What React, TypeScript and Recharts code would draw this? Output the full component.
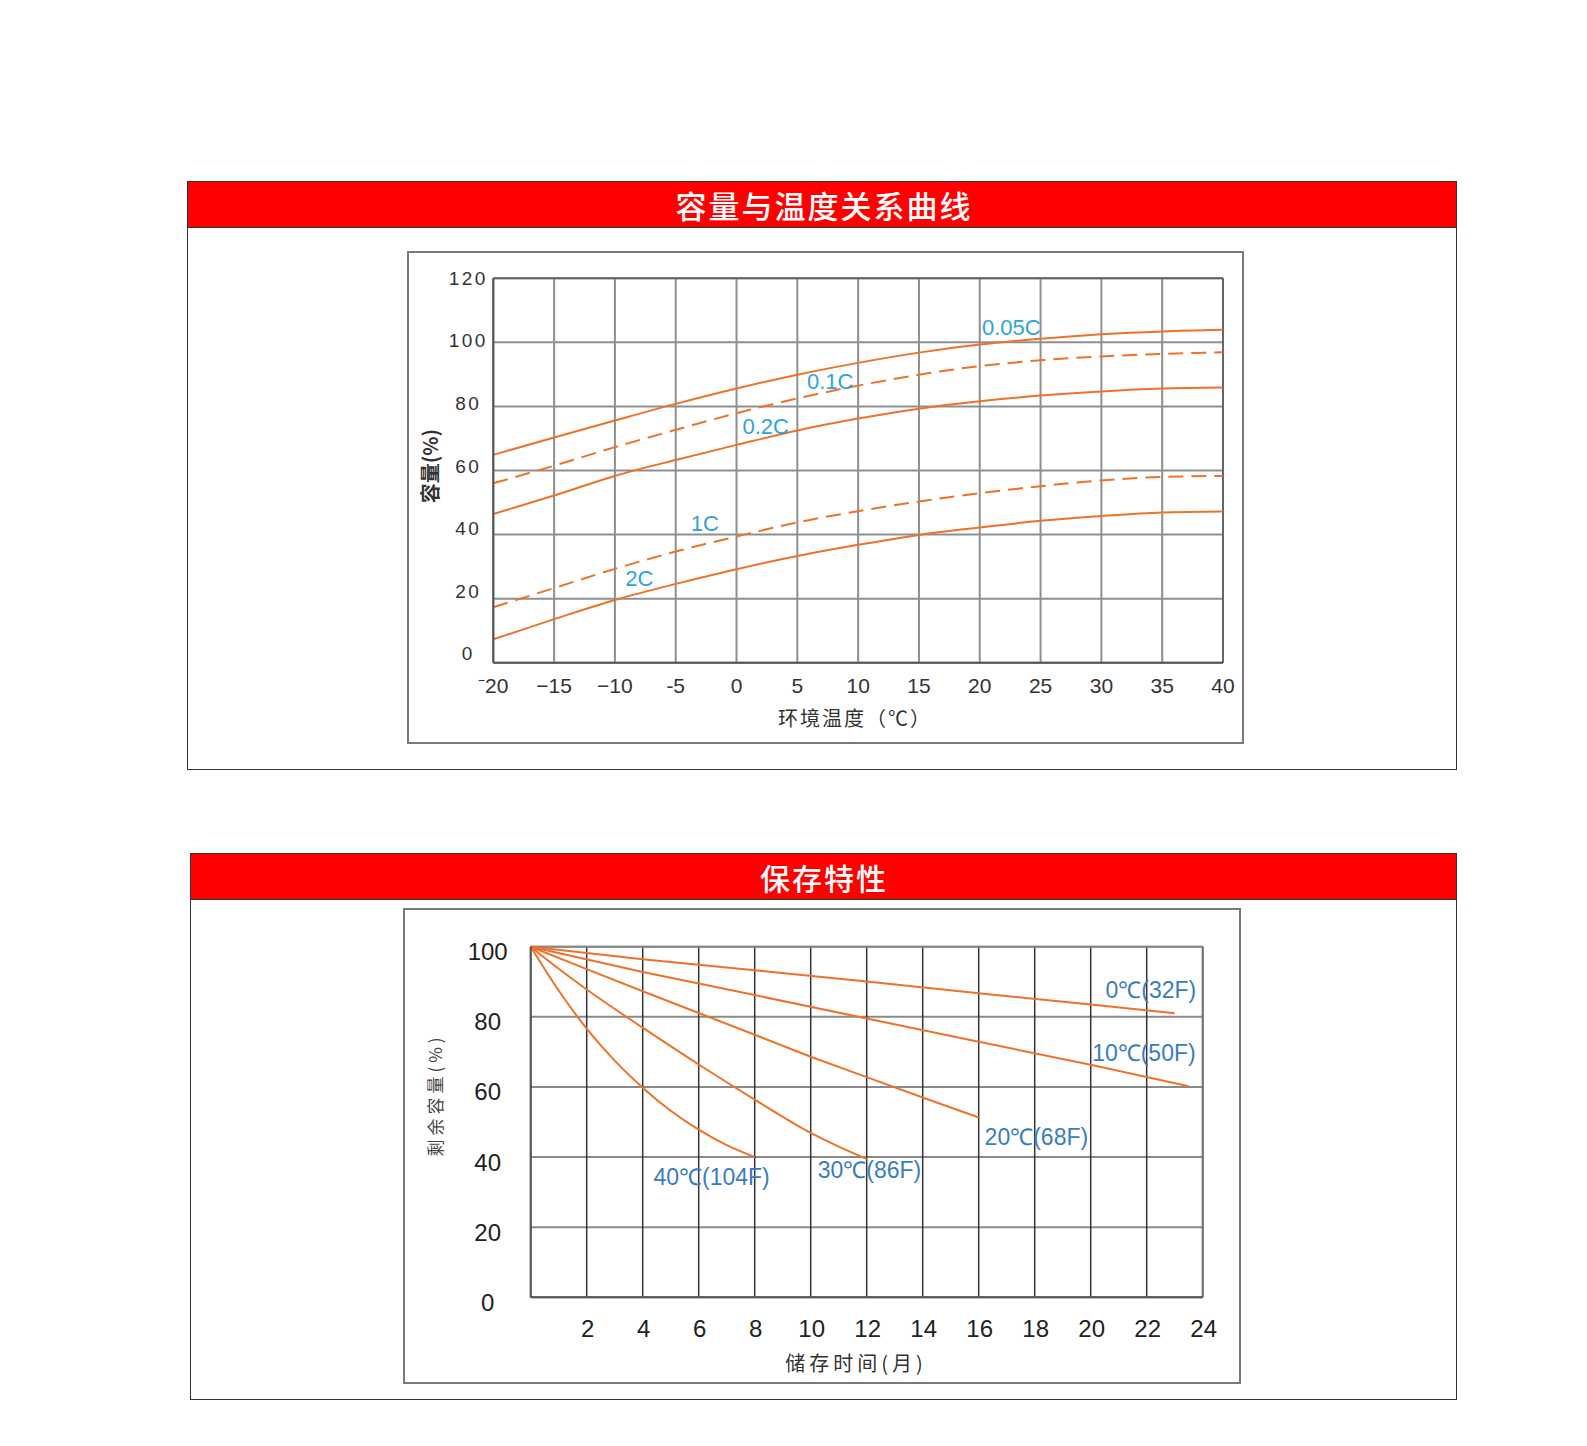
import React from 'react';
import { LineChart, Line, XAxis, YAxis, CartesianGrid, ReferenceLine, ReferenceDot } from 'recharts';

// ---------- Chart 1: capacity vs temperature ----------
const temps = [-20, -15, -10, -5, 0, 5, 10, 15, 20, 25, 30, 35, 40];
const tempTickLabels = ['⁻20', '−15', '−10', '-5', '0', '5', '10', '15', '20', '25', '30', '35', '40'];
const capTicks = [0, 20, 40, 60, 80, 100, 120];
const cap005 = [64.9, 70.3, 75.6, 80.8, 85.6, 89.9, 93.6, 96.8, 99.3, 101.1, 102.5, 103.4, 103.9];
const cap01 = [56, 61.5, 67.3, 72.7, 77.9, 82.5, 86.5, 89.9, 92.6, 94.4, 95.6, 96.4, 96.9];
const cap02 = [46.4, 52.2, 58.3, 63.3, 68, 72.5, 76.2, 79.3, 81.6, 83.4, 84.7, 85.6, 85.9];
const cap1 = [17.3, 23.3, 29.3, 34.7, 39.4, 43.8, 47.3, 50.3, 52.9, 55.1, 56.9, 58, 58.3];
const cap2 = [7.3, 13.6, 19.6, 24.6, 29.2, 33.3, 36.8, 39.9, 42.2, 44.3, 45.8, 46.9, 47.2];
const tempSeriesLabels = [
  { text: '0.05C', x: 22.6, y: 104.6 },
  { text: '0.1C', x: 7.7, y: 87.8 },
  { text: '0.2C', x: 2.4, y: 73.8 },
  { text: '1C', x: -2.6, y: 43.7 },
  { text: '2C', x: -8.0, y: 26.5 },
];

const tempData = temps.map((t, i) => ({
  t,
  c005: cap005[i],
  c01: cap01[i],
  c02: cap02[i],
  c1: cap1[i],
  c2: cap2[i],
}));

// ---------- Chart 2: storage characteristic ----------
const monthTicks = [0, 2, 4, 6, 8, 10, 12, 14, 16, 18, 20, 22, 24];
const monthTickLabels = ['', '2', '4', '6', '8', '10', '12', '14', '16', '18', '20', '22', '24'];
const remainTicks = [0, 20, 40, 60, 80, 100];
const m0 = [0, 4, 8, 12, 16, 20, 23];
const v0 = [100, 96.4, 93.3, 90.1, 86.7, 83.5, 81];
const m10 = [0, 4, 8, 12, 16, 20, 23.5];
const v10 = [100, 92.8, 86.2, 79.5, 72.9, 66.3, 60.2];
const m20 = [0, 2, 4, 6, 8, 10, 12, 14, 16];
const v20 = [100, 93.6, 87.3, 81.1, 74.9, 68.6, 62.8, 57, 51.3];
const m30 = [0, 1, 2, 4, 6, 8, 10, 11, 12];
const v30 = [100, 93.7, 87.8, 76.9, 66.4, 56.4, 46.9, 43, 39.5];
const m40 = [0, 1, 2, 3, 4, 5, 6, 7, 8];
const v40 = [100, 87.5, 76.6, 67.5, 59.8, 53.2, 47.8, 43.4, 40];
const storageSeries = [
  { name: '0℃(32F)', m: m0, v: v0, curve: 'linear' },
  { name: '10℃(50F)', m: m10, v: v10, curve: 'linear' },
  { name: '20℃(68F)', m: m20, v: v20, curve: 'linear' },
  { name: '30℃(86F)', m: m30, v: v30, curve: 'monotone' },
  { name: '40℃(104F)', m: m40, v: v40, curve: 'monotone' },
];
const storageLabels = [
  { text: '0℃(32F)', x: 22.15, y: 87.8 },
  { text: '10℃(50F)', x: 21.9, y: 69.7 },
  { text: '20℃(68F)', x: 18.06, y: 45.8 },
  { text: '30℃(86F)', x: 12.1, y: 36.4 },
  { text: '40℃(104F)', x: 6.46, y: 34.5 },
];

const ORANGE = '#ee722a';
const NUM_FONT = '"Liberation Sans", Arial, sans-serif';
const CJK_FONT = '"Noto Sans CJK SC", "Noto Sans", sans-serif';

const TempXTick = (props: any) => {
  const { x, y, payload } = props;
  const idx = temps.indexOf(payload.value);
  return (
    <text x={x} y={y + 23} textAnchor="middle" dominantBaseline="central" fontSize={21} fill="#333" fontFamily={NUM_FONT}>
      {tempTickLabels[idx]}
    </text>
  );
};

const CapYTick = (props: any) => {
  const { x, y, payload } = props;
  const v = payload.value as number;
  const dy = -9 * (1 - v / 120);
  return (
    <text x={x - 25} y={y + dy} textAnchor="middle" dominantBaseline="central" fontSize={19} letterSpacing={2.5} fill="#333" fontFamily={NUM_FONT}>
      {String(v)}
    </text>
  );
};

const MonthXTick = (props: any) => {
  const { x, y, payload } = props;
  const idx = monthTicks.indexOf(payload.value);
  return (
    <text x={x + 1} y={y + 31} textAnchor="middle" dominantBaseline="central" fontSize={24} fill="#222" fontFamily={NUM_FONT}>
      {monthTickLabels[idx]}
    </text>
  );
};

const RemainYTick = (props: any) => {
  const { x, y, payload } = props;
  return (
    <text x={x - 43} y={y + 5} textAnchor="middle" dominantBaseline="central" fontSize={24} fill="#222" fontFamily={NUM_FONT}>
      {String(payload.value)}
    </text>
  );
};

const abs = (l: number, t: number, w: number, h: number, extra: any = {}) => ({
  position: 'absolute' as const,
  left: l,
  top: t,
  width: w,
  height: h,
  boxSizing: 'border-box' as const,
  ...extra,
});

const centerText = (cx: number, cy: number, extra: any = {}) => ({
  position: 'absolute' as const,
  left: cx,
  top: cy,
  transform: 'translate(-50%, -50%)',
  whiteSpace: 'nowrap' as const,
  lineHeight: 1,
  ...extra,
});

export default function App() {
  return (
    <div style={{ position: 'absolute', left: 0, top: 0, width: 1587, height: 1446, background: '#fff' }}>
      {/* Panel 1 */}
      <div style={abs(187, 181, 1270, 589, { border: '1.5px solid #333' })} />
      <div style={abs(187, 181, 1270, 47, { background: '#ff0000', border: '1.5px solid #333' })} />
      <div style={centerText(824, 204, { color: '#fff', fontSize: 31, letterSpacing: 2, fontWeight: 500, fontFamily: CJK_FONT })}>容量与温度关系曲线</div>

      <div style={abs(407, 251, 837, 493, { border: '2px solid #7a7a7a' })} />
      <div style={abs(408, 252, 835, 491)}>
        <LineChart width={835} height={491} data={tempData} margin={{ top: 26.3, right: 20, bottom: 0, left: 0 }}>
          <CartesianGrid stroke="#8f8f8f" strokeWidth={2} />
          <XAxis
            dataKey="t"
            type="number"
            domain={[-20, 40]}
            ticks={temps}
            interval={0}
            height={80.3}
            tickSize={0}
            tickMargin={0}
            axisLine={{ stroke: '#555', strokeWidth: 2 }}
            tickLine={false}
            tick={<TempXTick />}
          />
          <YAxis
            type="number"
            domain={[0, 120]}
            ticks={capTicks}
            interval={0}
            width={85.3}
            tickSize={0}
            tickMargin={0}
            axisLine={{ stroke: '#555', strokeWidth: 2 }}
            tickLine={false}
            tick={<CapYTick />}
          />
          <ReferenceLine y={120} stroke="#666" strokeWidth={2} />
          <ReferenceLine x={40} stroke="#666" strokeWidth={2} />
          <Line dataKey="c005" type="monotone" stroke={ORANGE} strokeWidth={2} dot={false} isAnimationActive={false} />
          <Line dataKey="c01" type="monotone" stroke={ORANGE} strokeWidth={2} strokeDasharray="15 8" dot={false} isAnimationActive={false} />
          <Line dataKey="c02" type="monotone" stroke={ORANGE} strokeWidth={2} dot={false} isAnimationActive={false} />
          <Line dataKey="c1" type="monotone" stroke={ORANGE} strokeWidth={2} strokeDasharray="15 8" dot={false} isAnimationActive={false} />
          <Line dataKey="c2" type="monotone" stroke={ORANGE} strokeWidth={2} dot={false} isAnimationActive={false} />
          {tempSeriesLabels.map((l) => (
            <ReferenceDot
              key={l.text}
              x={l.x}
              y={l.y}
              r={1}
              fill="none"
              stroke="none"
              label={{ value: l.text, position: 'center', fill: '#2ea3dc', fontSize: 22, fontFamily: NUM_FONT }}
            />
          ))}
        </LineChart>
      </div>
      <div style={centerText(430, 466, { transform: 'translate(-50%, -50%) rotate(-90deg)', fontSize: 20, fontWeight: 700, color: '#333', fontFamily: CJK_FONT })}>容量(%)</div>
      <div style={centerText(855, 718, { fontSize: 20, letterSpacing: 2, color: '#333', fontFamily: CJK_FONT })}>环境温度（℃）</div>

      {/* Panel 2 */}
      <div style={abs(190, 853, 1267, 547, { border: '1.5px solid #333' })} />
      <div style={abs(190, 853, 1267, 47, { background: '#ff0000', border: '1.5px solid #333' })} />
      <div style={centerText(824, 877, { color: '#fff', fontSize: 30, letterSpacing: 2, fontWeight: 500, fontFamily: CJK_FONT })}>保存特性</div>

      <div style={abs(403, 908, 838, 476, { border: '2px solid #7a7a7a' })} />
      <div style={abs(404, 909, 836, 474)}>
        <LineChart width={836} height={474} margin={{ top: 37.7, right: 37.3, bottom: 0, left: 0 }}>
          <CartesianGrid stroke="#8a8a8a" strokeWidth={2} vertical={false} />
          <CartesianGrid stroke="#333" strokeWidth={1.5} horizontal={false} />
          <XAxis
            dataKey="m"
            type="number"
            domain={[0, 24]}
            ticks={monthTicks}
            interval={0}
            height={85.7}
            tickSize={0}
            tickMargin={0}
            axisLine={{ stroke: '#555', strokeWidth: 2 }}
            tickLine={false}
            tick={<MonthXTick />}
            allowDuplicatedCategory={false}
          />
          <YAxis
            type="number"
            domain={[0, 100]}
            ticks={remainTicks}
            interval={0}
            width={126.7}
            tickSize={0}
            tickMargin={0}
            axisLine={{ stroke: '#555', strokeWidth: 2 }}
            tickLine={false}
            tick={<RemainYTick />}
          />
          <ReferenceLine y={100} stroke="#888" strokeWidth={2} />
          <ReferenceLine x={24} stroke="#777" strokeWidth={2} />
          {storageSeries.map((s) => (
            <Line
              key={s.name}
              data={s.m.map((m, i) => ({ m, v: s.v[i] }))}
              dataKey="v"
              type={s.curve as any}
              stroke={ORANGE}
              strokeWidth={2}
              dot={false}
              isAnimationActive={false}
            />
          ))}
          {storageLabels.map((l) => (
            <ReferenceDot
              key={l.text}
              x={l.x}
              y={l.y}
              r={1}
              fill="none"
              stroke="none"
              label={{ value: l.text, position: 'center', fill: '#3a7cc0', fontSize: 23, fontFamily: NUM_FONT }}
            />
          ))}
        </LineChart>
      </div>
      <div style={centerText(434, 1095, { transform: 'translate(-50%, -50%) rotate(-90deg)', fontSize: 17, letterSpacing: 4, color: '#444', fontFamily: CJK_FONT })}>剩余容量(%)</div>
      <div style={centerText(856, 1363, { fontSize: 20, letterSpacing: 4, color: '#333', fontFamily: CJK_FONT })}>储存时间(月)</div>
    </div>
  );
}
